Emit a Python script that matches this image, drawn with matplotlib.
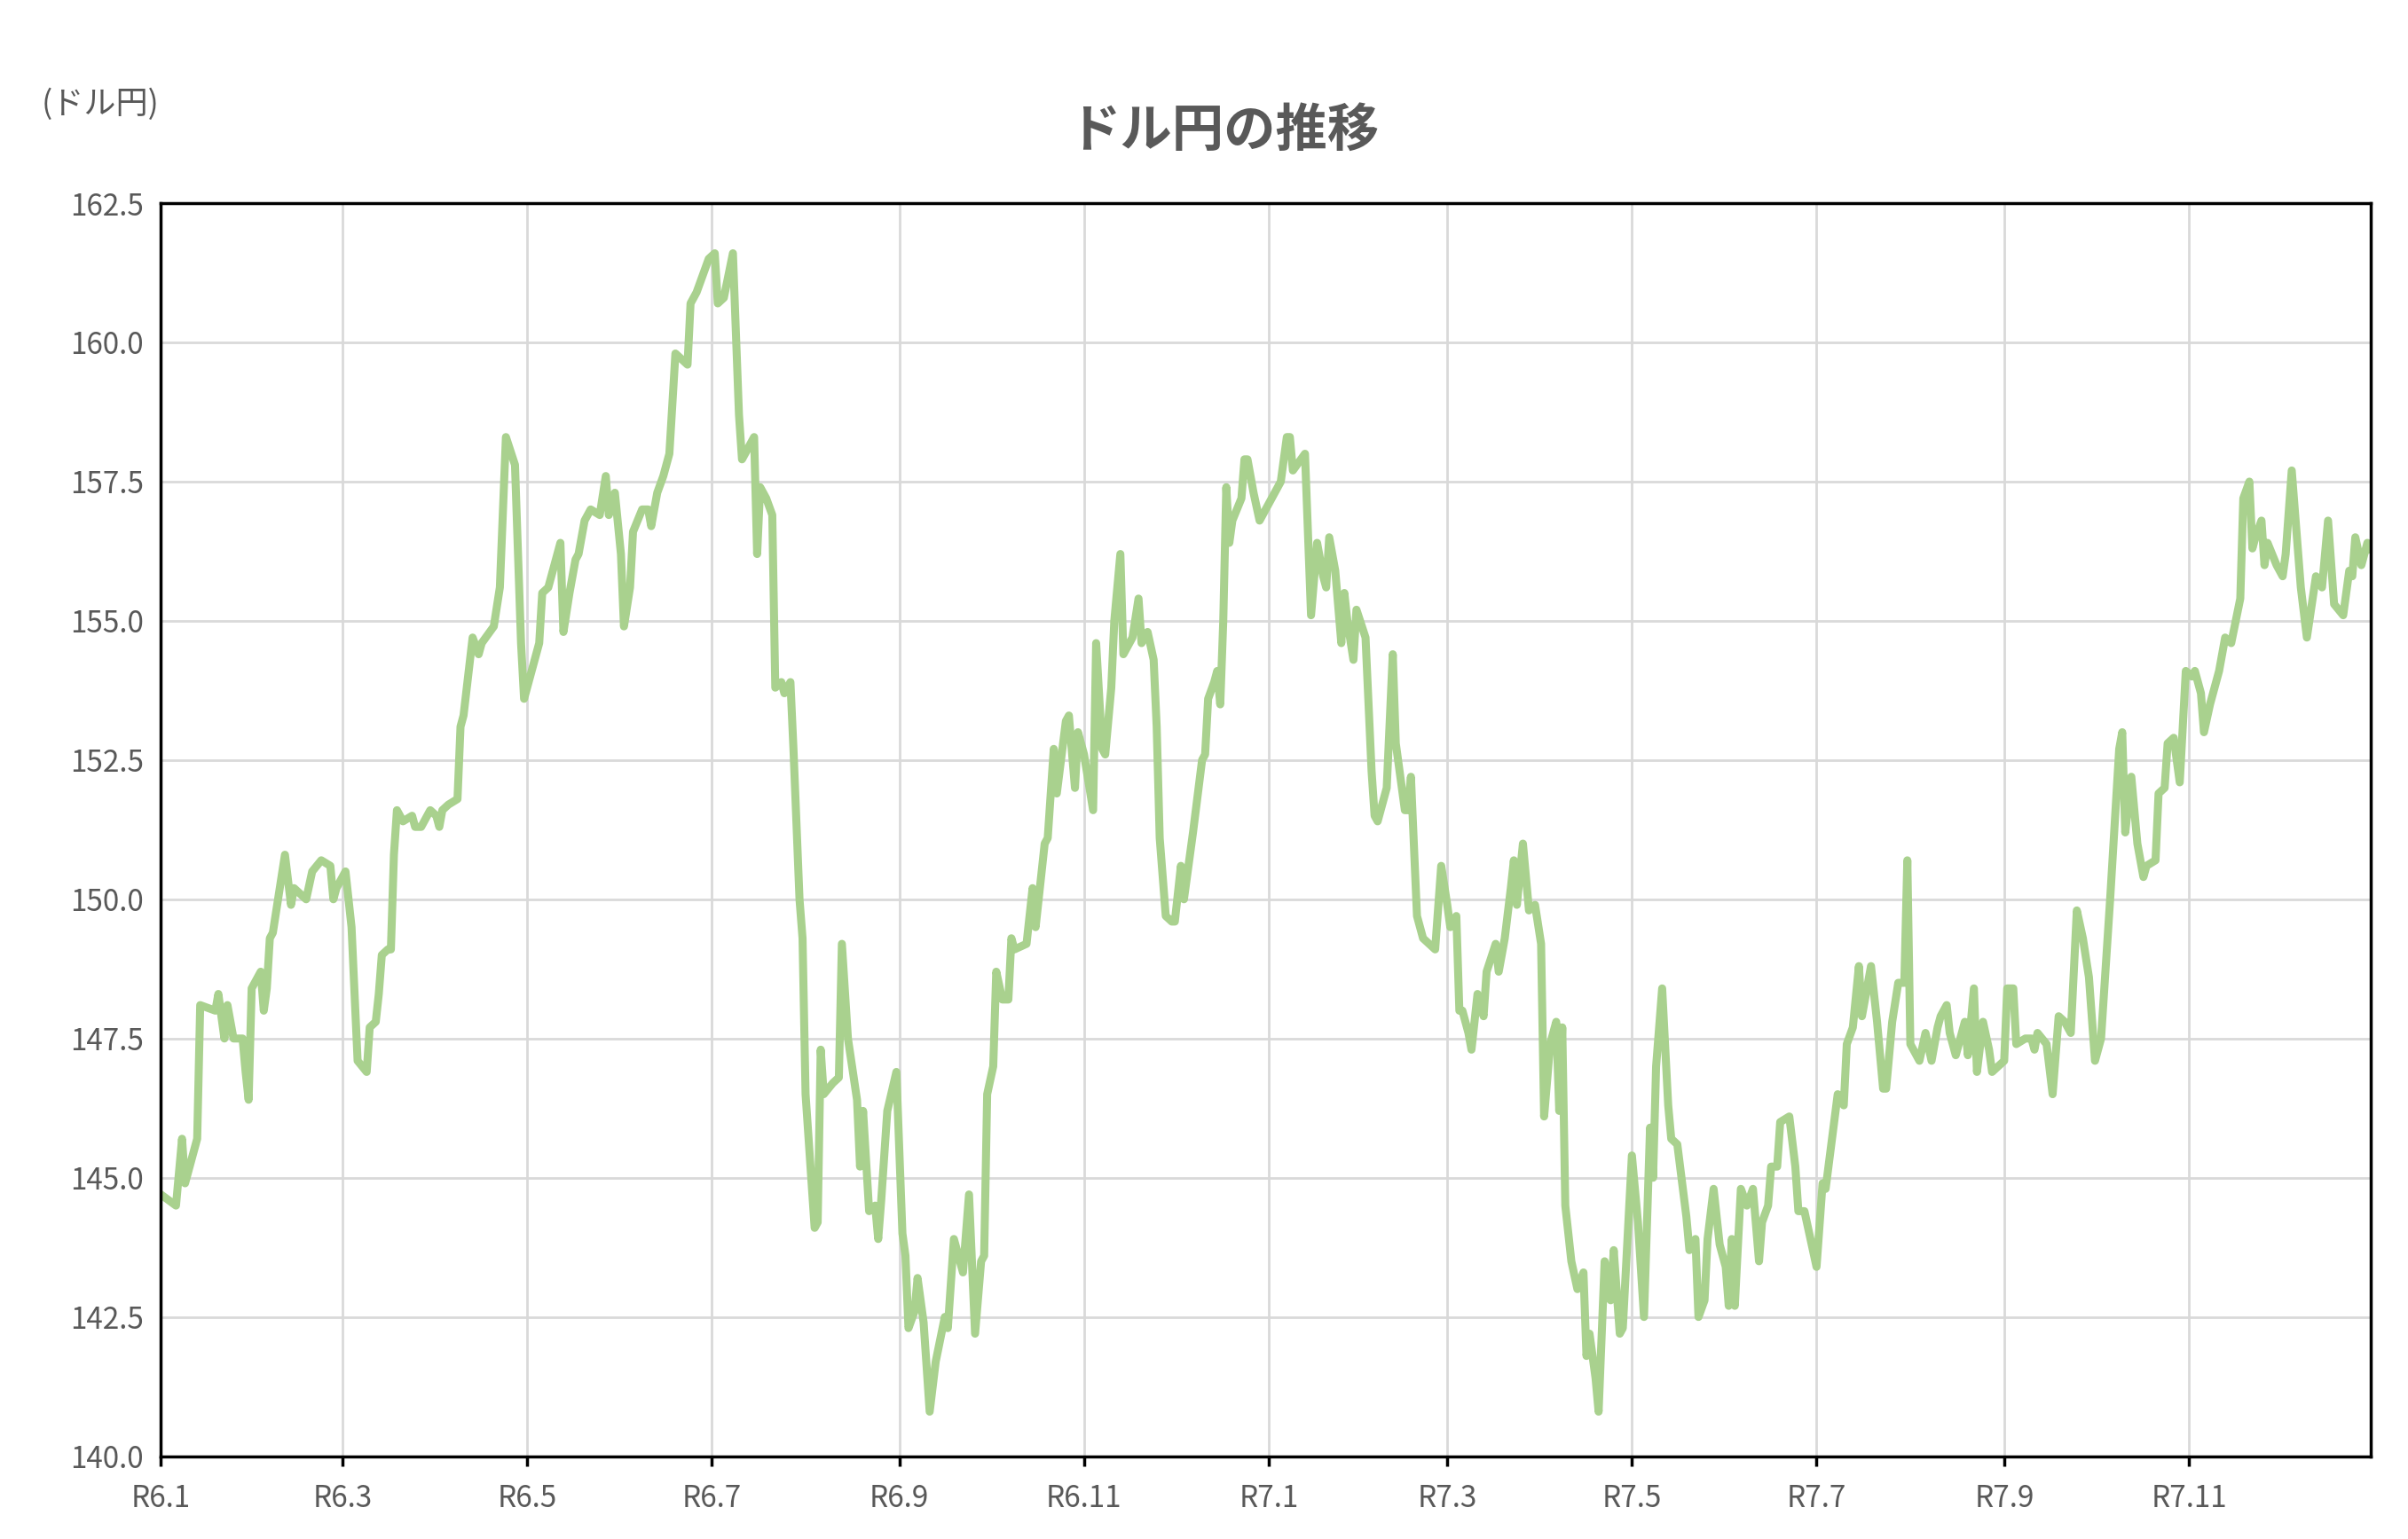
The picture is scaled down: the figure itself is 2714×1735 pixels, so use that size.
import matplotlib.pyplot as plt

plt.rcParams['font.family'] = ['Noto Sans CJK JP', 'DejaVu Sans']

# days since 2024-01-01 (R6.1)
days = [0,5,7,8,12,13,18,19,21,22,24,27,28,29,30,33,34,35,36,37,41,43,44,46,48,50,53,56,57,58,61,63,65,68,69,71,72,73,75,76,77,78,80,83,84,86,89,91,92,93,95,98,99,100,103,105,106,110,112,114,117,119,120,125,126,128,132,133,135,137,138,140,142,145,147,148,150,152,153,155,156,159,161,162,164,166,168,170,174,175,177,181,183,184,186,189,191,192,196,197,198,200,202,203,205,206,208,209,211,212,213,216,217,218,219,222,224,225,227,230,231,232,234,236,237,238,240,243,245,246,247,249,250,252,254,256,259,260,262,264,265,267,269,271,272,273,275,276,278,280,281,282,286,288,289,291,292,293,295,296,299,300,302,303,305,308,309,311,312,314,315,317,318,321,323,324,326,328,329,330,332,334,335,337,338,341,344,345,346,348,349,350,351,352,353,354,357,358,359,361,363,366,370,372,373,374,378,380,382,384,385,386,388,390,391,392,394,395,398,400,401,402,405,407,408,411,412,413,415,417,421,423,425,426,428,429,430,432,433,435,437,438,441,442,444,446,447,448,450,452,454,456,457,459,461,462,463,464,466,468,470,471,472,474,475,477,479,480,482,483,486,488,490,492,493,494,496,498,499,501,504,505,507,508,510,511,513,515,517,518,519,520,522,524,526,528,529,531,532,534,535,538,540,541,543,547,549,550,554,556,557,559,561,562,565,567,569,570,572,574,576,577,578,581,583,585,587,588,590,591,593,596,597,599,600,602,604,605,609,610,612,613,616,618,619,620,623,625,627,629,631,633,635,637,639,641,644,647,648,649,651,653,655,656,659,660,662,663,665,667,669,671,672,674,675,677,680,682,684,687,688,690,691,692,694,695,696,699,701,702,704,706,707,709,712,714,716,718,721,723,724,725,727,729,730]

usdjpy = [144.7,144.5,145.7,144.9,145.7,148.1,148.0,148.3,147.5,148.1,147.5,147.5,146.9,146.4,148.4,148.7,148.0,148.4,149.3,149.4,150.8,149.9,150.2,150.1,150.0,150.5,150.7,150.6,150.0,150.2,150.5,149.5,147.1,146.9,147.7,147.8,148.3,149.0,149.1,149.1,150.8,151.6,151.4,151.5,151.3,151.3,151.6,151.5,151.3,151.6,151.7,151.8,153.1,153.3,154.7,154.4,154.6,154.9,155.6,158.3,157.8,154.6,153.6,154.6,155.5,155.6,156.4,154.8,155.5,156.1,156.2,156.8,157.0,156.9,157.6,156.9,157.3,156.2,154.9,155.6,156.6,157.0,157.0,156.7,157.3,157.6,158.0,159.8,159.6,160.7,160.9,161.5,161.6,160.7,160.8,161.6,158.7,157.9,158.3,156.2,157.4,157.2,156.9,153.8,153.9,153.7,153.9,152.7,150.0,149.3,146.5,144.1,144.2,147.3,146.5,146.7,146.8,149.2,147.5,146.4,145.2,146.2,144.4,144.5,143.9,144.6,146.2,146.9,144.0,143.6,142.3,142.6,143.2,142.4,140.8,141.7,142.5,142.3,143.9,143.5,143.3,144.7,142.2,143.5,143.6,146.5,147.0,148.7,148.2,148.2,149.3,149.1,149.2,150.2,149.5,150.5,151.0,151.1,152.7,151.9,153.2,153.3,152.0,153.0,152.6,151.6,154.6,152.7,152.6,153.8,155.0,156.2,154.4,154.7,155.4,154.6,154.8,154.3,153.1,151.1,149.7,149.6,149.6,150.6,150.0,151.2,152.5,152.6,153.6,153.9,154.1,153.5,155.0,157.4,156.4,156.8,157.2,157.9,157.9,157.3,156.8,157.1,157.5,158.3,158.3,157.7,158.0,155.1,156.4,155.8,155.6,156.5,155.9,154.6,155.5,155.0,154.3,155.2,154.7,152.3,151.5,151.4,152.0,154.4,152.8,151.6,151.6,152.2,149.7,149.3,149.1,150.6,149.9,149.5,149.7,148.0,148.0,147.6,147.3,148.3,147.9,148.7,149.2,148.7,149.3,150.2,150.7,149.9,151.0,149.8,149.9,149.2,146.1,147.4,147.8,146.2,147.7,144.5,143.5,143.0,143.3,141.8,142.2,141.4,140.8,143.5,142.8,143.7,142.2,142.3,145.4,144.2,142.5,145.9,145.0,147.0,148.4,146.3,145.7,145.6,144.3,143.7,143.9,142.5,142.8,143.9,144.8,143.8,143.4,142.7,143.9,142.7,144.8,144.5,144.8,143.5,144.2,144.5,145.2,145.2,146.0,146.1,145.2,144.4,144.4,143.4,144.9,144.8,146.5,146.3,147.4,147.7,148.8,147.9,148.8,147.8,146.6,146.6,147.8,148.5,148.5,150.7,147.4,147.1,147.6,147.1,147.7,147.9,148.1,147.6,147.2,147.8,147.2,148.4,146.9,147.8,147.3,146.9,147.1,148.4,148.4,147.4,147.5,147.5,147.3,147.6,147.4,146.5,147.9,147.8,147.6,149.8,149.3,148.6,147.1,147.5,150.0,152.7,153.0,151.2,152.2,151.0,150.4,150.6,150.7,151.9,152.0,152.8,152.9,152.1,154.1,154.0,154.1,153.7,153.0,153.5,154.1,154.7,154.6,155.4,157.2,157.5,156.3,156.5,156.8,156.0,156.4,156.0,155.8,156.2,157.7,156.3,155.6,154.7,155.8,155.6,156.8,155.3,155.1,155.9,155.8,156.5,156.0,156.4,156.3]

tick_days = [0, 60, 121, 182, 244, 305, 366, 425, 486, 547, 609, 670]
tick_labels = ['R6.1', 'R6.3', 'R6.5', 'R6.7', 'R6.9', 'R6.11', 'R7.1', 'R7.3', 'R7.5', 'R7.7', 'R7.9', 'R7.11']
y_ticks = [140.0, 142.5, 145.0, 147.5, 150.0, 152.5, 155.0, 157.5, 160.0, 162.5]

fig = plt.figure(figsize=(27.14, 17.35), dpi=100)
ax = fig.add_axes([0.0668, 0.0538, 0.9176, 0.8142])
ax.plot(days, usdjpy, color='#A9D18E', lw=6.5, solid_joinstyle='round')
ax.set_xlim(0, 730)
ax.set_ylim(140, 162.5)
ax.set_xticks(tick_days)
ax.set_xticklabels(tick_labels)
ax.set_yticks(y_ticks)
ax.set_yticklabels([f'{v:.1f}' for v in y_ticks])
ax.grid(True, color='#D9D9D9', lw=2)
ax.set_axisbelow(True)
for s in ax.spines.values():
    s.set_color('black')
    s.set_linewidth(2.5)
ax.tick_params(axis='both', labelsize=24, colors='#595959', length=0, pad=14)
ax.tick_params(axis='x', length=8, width=2.5, color='black', direction='out')
fig.text(0.508, 0.915, 'ドル円の推移', ha='center', va='center', fontsize=42,
         fontweight='bold', color='#595959')
fig.text(0.017, 0.932, '(ドル円)', ha='left', va='center', fontsize=26, color='#595959')
fig.savefig('out.png', dpi=100)
